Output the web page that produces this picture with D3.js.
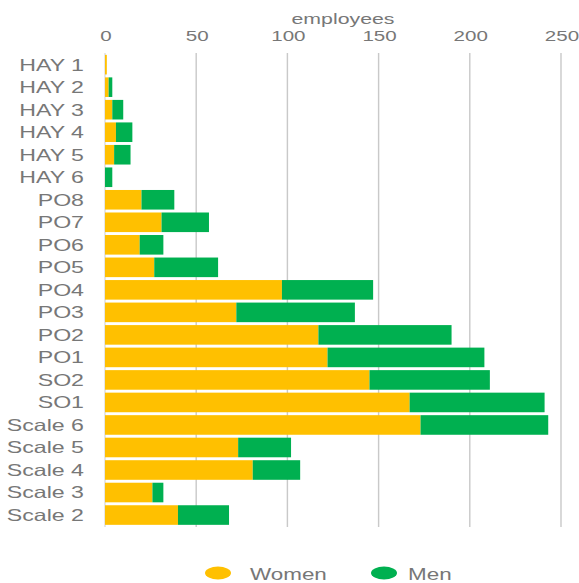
<!DOCTYPE html>
<html>
<head>
<meta charset="utf-8">
<script src="https://cdn.jsdelivr.net/npm/d3@7"></script>
<style>
  html, body { margin: 0; padding: 0; background: #fff; }
  svg { display: block; }
  text { font-family: "Liberation Sans", Arial, sans-serif; fill: #777; }
</style>
</head>
<body>
<svg id="chart"></svg>
<script>
const categories = ["HAY 1", "HAY 2", "HAY 3", "HAY 4", "HAY 5", "HAY 6", "PO8", "PO7", "PO6", "PO5",
  "PO4", "PO3", "PO2", "PO1", "SO2", "SO1", "Scale 6", "Scale 5", "Scale 4", "Scale 3", "Scale 2"];
const women = [1, 2, 4, 6, 5, 0, 20, 31, 19, 27, 97, 72, 117, 122, 145, 167, 173, 73, 81, 26, 40];
const men = [0, 2, 6, 9, 9, 4, 18, 26, 13, 35, 50, 65, 73, 86, 66, 74, 70, 29, 26, 6, 28];
const seriesNames = ["Women", "Men"];
const tickValues = [0, 50, 100, 150, 200, 250];

const colors = { Women: "#FFC000", Men: "#00B050" };

// the original picture is stretched sideways, so draw in a narrower viewBox and stretch it
const W = 579, H = 583, stretch = 1.42;
const VW = W / stretch;

const svg = d3.select("#chart")
  .attr("width", W).attr("height", H)
  .attr("viewBox", `0 0 ${VW} ${H}`)
  .attr("preserveAspectRatio", "none");

const x = d3.scaleLinear().domain([0, 250]).range([105 / stretch, 561 / stretch]);
const y = d3.scaleBand().domain(categories).range([53.4, 526.3]).paddingInner(0.13).paddingOuter(0.065);

const rows = categories.map((c, i) => ({ cat: c, Women: women[i], Men: men[i] }));
const stacked = d3.stack().keys(seriesNames)(rows);

// gridlines
svg.append("g").selectAll("line").data(tickValues).enter().append("line")
  .attr("x1", d => x(d)).attr("x2", d => x(d))
  .attr("y1", 53).attr("y2", 527)
  .attr("stroke", d => d === 0 ? "#dcdcdc" : "#c9c9c9")
  .attr("stroke-width", 1);

// tick labels
svg.append("g").selectAll("text").data(tickValues).enter().append("text")
  .attr("x", d => x(d) + 1 / stretch).attr("y", 41.5)
  .attr("text-anchor", "middle")
  .style("font-size", "14.5px")
  .text(d => d);

svg.append("text")
  .attr("x", 343 / stretch).attr("y", 24)
  .attr("text-anchor", "middle")
  .style("font-size", "15px")
  .text("employees");

// bars
svg.append("g").selectAll("g").data(stacked).enter().append("g")
  .attr("fill", d => colors[d.key])
  .selectAll("rect").data(d => d).enter().append("rect")
  .attr("x", d => x(d[0]))
  .attr("width", d => x(d[1]) - x(d[0]))
  .attr("y", d => y(d.data.cat))
  .attr("height", y.bandwidth());

// category labels
svg.append("g").selectAll("text").data(categories).enter().append("text")
  .attr("x", 84 / stretch)
  .attr("y", d => y(d) + y.bandwidth() / 2)
  .attr("dy", "0.36em")
  .attr("text-anchor", "end")
  .style("font-size", "16.3px")
  .text(d => d);

// legend
const legendPos = [{ name: "Women", cx: 218, tx: 250 }, { name: "Men", cx: 384, tx: 408 }];
const lg = svg.append("g").selectAll("g").data(legendPos).enter().append("g");
lg.append("ellipse")
  .attr("cx", d => d.cx / stretch).attr("cy", 573)
  .attr("rx", 13 / stretch).attr("ry", 6.5)
  .attr("fill", d => colors[d.name]);
lg.append("text")
  .attr("x", d => d.tx / stretch).attr("y", 580)
  .style("font-size", "15.8px")
  .text(d => d.name);
</script>
</body>
</html>
